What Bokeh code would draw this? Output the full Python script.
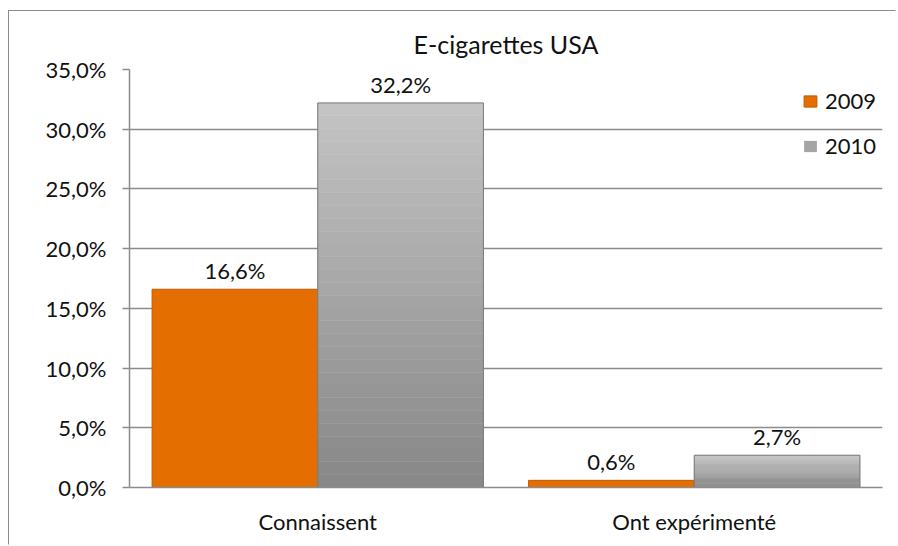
from bokeh.plotting import figure
from bokeh.models import (FactorRange, Range1d, FixedTicker, ColumnDataSource, Legend, LegendItem, Title)
from bokeh.transform import dodge
from bokeh.core.properties import value
from bokeh.embed import file_html
from bokeh.resources import INLINE

categories = ["Connaissent", "Ont expérimenté"]
years = ["2009", "2010"]
values_2009 = [16.6, 0.6]
values_2010 = [32.2, 2.7]
y_ticks = [0, 5, 10, 15, 20, 25, 30, 35]
y_tick_labels = ["0,0%", "5,0%", "10,0%", "15,0%", "20,0%", "25,0%", "30,0%", "35,0%"]
title_text = "E-cigarettes USA"

FONT = "Lato"
FS = "22px"

p = figure(width=888, height=535, x_range=FactorRange(factors=categories), y_range=Range1d(0, 35),
           output_backend="svg", toolbar_location=None,
           min_border_left=120, min_border_right=15, min_border_top=58, min_border_bottom=59)
p.styles = {"border-left": "1px solid #8c8c8c", "border-top": "1px solid #8c8c8c",
            "border-right": "1px solid white", "border-bottom": "1px solid white",
            "position": "relative", "left": "8px", "top": "10px"}
p.outline_line_color = None
p.xgrid.grid_line_color = None
p.ygrid.grid_line_color = "#8c8c8c"
p.ygrid.grid_line_width = 1.5

p.yaxis.ticker = FixedTicker(ticks=y_ticks)
p.yaxis.major_label_overrides = {t: l for t, l in zip(y_ticks, y_tick_labels)}
p.yaxis.axis_line_color = "#8c8c8c"
p.yaxis.axis_line_width = 1.5
p.yaxis.major_tick_line_color = "#8c8c8c"
p.yaxis.major_tick_line_width = 1.5
p.yaxis.major_tick_out = 7
p.yaxis.major_tick_in = 0
p.yaxis.minor_tick_line_color = None
p.yaxis.major_label_text_font = FONT
p.yaxis.major_label_text_font_size = FS
p.yaxis.major_label_text_color = "#111111"
p.yaxis.major_label_standoff = 16

p.xaxis.axis_line_color = "#8c8c8c"
p.xaxis.axis_line_width = 1.5
p.xaxis.major_tick_line_color = None
p.xaxis.major_label_text_font = FONT
p.xaxis.major_label_text_font_size = FS
p.xaxis.major_label_text_color = "#111111"
p.xaxis.major_label_standoff = 14

p.title = Title(text=title_text, align="center", text_font=FONT, text_font_size="25px",
                text_font_style="normal", text_color="#111111", offset=0, standoff=21)

bw = 0.44
off = 0.22

# orange bars (2009)
src09 = ColumnDataSource(dict(cat=categories, top=values_2009,
                              lab=[f"{v:.1f}".replace(".", ",") + "%" for v in values_2009]))
r09 = p.vbar(x=dodge("cat", -off, range=p.x_range), top="top", bottom=0, width=bw, source=src09,
             fill_color="#E46F00", line_color="#C05A00", line_width=1)

# grey bars (2010) with vertical gradient bands
N = 30
light = (196, 196, 196)
dark = (136, 136, 136)
band_cat, band_b, band_t, band_c = [], [], [], []
for c, v in zip(categories, values_2010):
    for i in range(N):
        f = i / (N - 1)
        col = tuple(int(dark[k] + (light[k] - dark[k]) * f) for k in range(3))
        band_cat.append(c)
        band_b.append(v * i / N)
        band_t.append(v * (i + 1) / N)
        band_c.append("#%02x%02x%02x" % col)
src10b = ColumnDataSource(dict(cat=band_cat, b=band_b, t=band_t, c=band_c))
p.vbar(x=dodge("cat", off, range=p.x_range), bottom="b", top="t", width=bw, source=src10b,
       fill_color="c", line_color="c", line_width=0.5)
src10 = ColumnDataSource(dict(cat=categories, top=values_2010,
                              lab=[f"{v:.1f}".replace(".", ",") + "%" for v in values_2010]))
p.vbar(x=dodge("cat", off, range=p.x_range), top="top", bottom=0, width=bw, source=src10,
       fill_alpha=0, line_color="#7a7a7a", line_width=1)

# labels
for s, d in ((src09, -off), (src10, off)):
    p.text(x=dodge("cat", d, range=p.x_range), y="top", text="lab", source=s,
           text_align="center", text_baseline="bottom", y_offset=-5,
           text_font=value(FONT), text_font_size=FS, text_color="#111111")

# legend proxy for 2010 (zero-height bar, only used for the legend swatch)
src_leg = ColumnDataSource(dict(cat=categories, z=[0] * len(categories)))
r_leg10 = p.vbar(x=dodge("cat", off, range=p.x_range), top="z", bottom="z", width=bw, source=src_leg,
                 fill_color="#a5a5a5", line_color="#7a7a7a", line_alpha=0)

legend = Legend(items=[LegendItem(label="2009", renderers=[r09]),
                       LegendItem(label="2010", renderers=[r_leg10])],
                location=(673, 328), border_line_color=None, background_fill_alpha=0,
                label_text_font=FONT, label_text_font_size=FS, label_text_color="#111111",
                glyph_width=16, glyph_height=14, spacing=18, label_standoff=7, label_height=27,
                margin=0, padding=5)
p.add_layout(legend)

open("out.html", "w").write(file_html(p, INLINE))
